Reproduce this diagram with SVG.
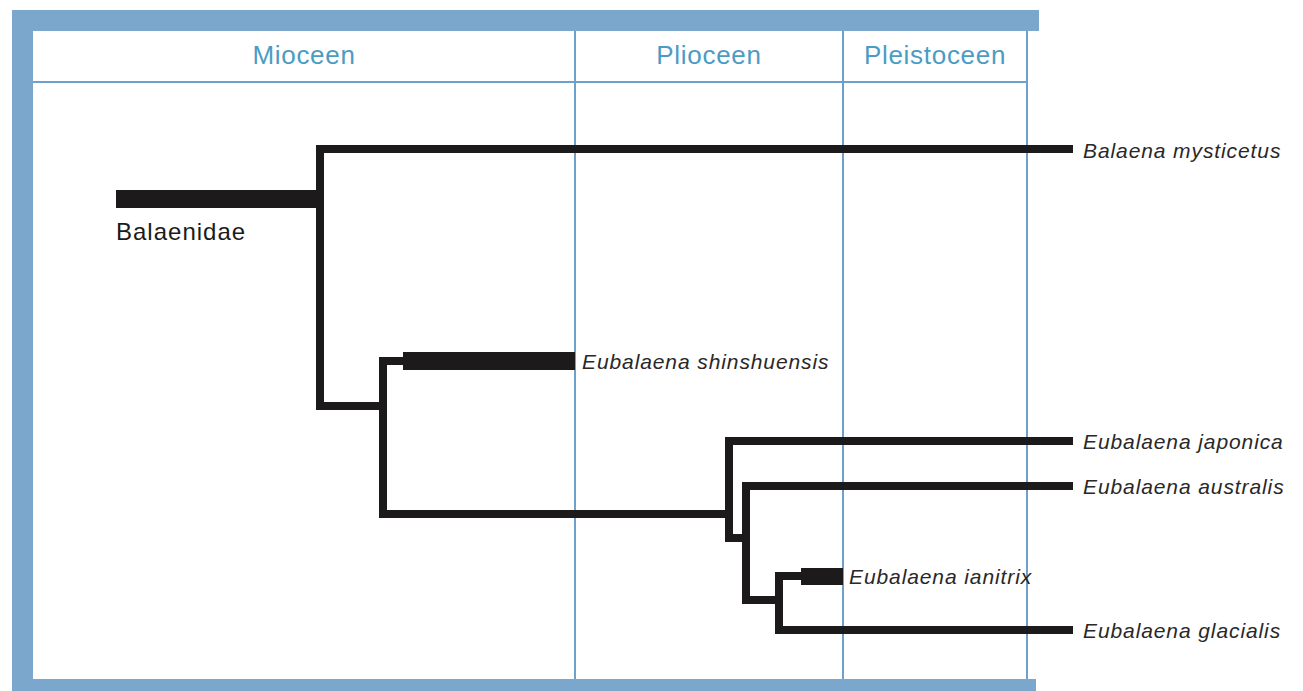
<svg xmlns="http://www.w3.org/2000/svg" width="1303" height="691" viewBox="0 0 1303 691">
<style>
.frame{fill:#7aa7cb}
.grid{stroke:#6fa0cb;stroke-width:2;fill:none}
.hdr{font-family:"Liberation Sans",Arial,sans-serif;font-size:26px;fill:#4b9cc4;text-anchor:middle;letter-spacing:0.7px}
.br{stroke:#1c1a1a;stroke-width:8;fill:none;stroke-linejoin:miter;stroke-linecap:square}
.thick{fill:#1c1a1a}
.sp{font-family:"Liberation Sans",Arial,sans-serif;font-size:21px;font-style:italic;fill:#2a2828;letter-spacing:0.9px}
.fam{font-family:"Liberation Sans",Arial,sans-serif;font-size:24px;fill:#1c1a1a;letter-spacing:1px}
</style>
<rect width="1303" height="691" fill="#ffffff"/>
<g id="frame">
<rect class="frame" x="12" y="10" width="1027" height="21"/>
<rect class="frame" x="12" y="10" width="21" height="681"/>
<rect class="frame" x="12" y="679" width="1024" height="12"/>
<line class="grid" x1="33" y1="82" x2="1027" y2="82"/>
<line class="grid" x1="575" y1="31" x2="575" y2="679"/>
<line class="grid" x1="843" y1="31" x2="843" y2="679"/>
<line class="grid" x1="1027" y1="31" x2="1027" y2="679"/>
</g>
<g id="headers">
<text class="hdr" x="304" y="64">Mioceen</text>
<text class="hdr" x="709" y="64">Plioceen</text>
<text class="hdr" x="935" y="64">Pleistoceen</text>
</g>
<g id="connectors">
<polyline class="br" points="1069,149 320,149 320,406 383,406"/>
<polyline class="br" points="403,361 383,361 383,514 727,514"/>
<polyline class="br" points="1069,441 729,441 729,538 746,538"/>
<polyline class="br" points="1069,486 746,486 746,600 779,600"/>
<polyline class="br" points="801,576 779,576 779,630 1069,630"/>
</g>
<g id="n-balaenidae">
<rect class="thick" x="116" y="190" width="204" height="18"/>
<text class="fam" x="116" y="240">Balaenidae</text>
</g>
<g id="n-mysticetus">
<text class="sp" x="1083" y="158">Balaena mysticetus</text>
</g>
<g id="n-shinshuensis">
<rect class="thick" x="403" y="352" width="172" height="18"/>
<text class="sp" x="582" y="369">Eubalaena shinshuensis</text>
</g>
<g id="n-japonica">
<text class="sp" x="1083" y="449">Eubalaena japonica</text>
</g>
<g id="n-australis">
<text class="sp" x="1083" y="494">Eubalaena australis</text>
</g>
<g id="n-ianitrix">
<rect class="thick" x="801" y="568" width="42" height="17"/>
<text class="sp" x="849" y="584">Eubalaena ianitrix</text>
</g>
<g id="n-glacialis">
<text class="sp" x="1083" y="638">Eubalaena glacialis</text>
</g>
</svg>
